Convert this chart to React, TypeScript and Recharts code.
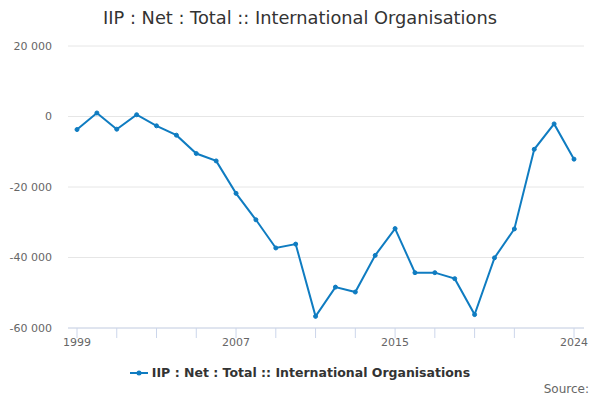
import React from 'react';
import { LineChart, Line, XAxis, YAxis, CartesianGrid } from 'recharts';

const years = [
  1999, 2000, 2001, 2002, 2003, 2004, 2005, 2006, 2007, 2008, 2009, 2010, 2011,
  2012, 2013, 2014, 2015, 2016, 2017, 2018, 2019, 2020, 2021, 2022, 2023, 2024,
];
const netValues = [
  -3700, 1000, -3600, 500, -2650, -5300, -10500, -12600, -21800, -29300, -37300, -36200, -56700,
  -48400, -49800, -39400, -31800, -44300, -44300, -46000, -56200, -40100, -31900, -9300, -2100, -12100,
];
const xTicks = [1999, 2001, 2003, 2005, 2007, 2009, 2011, 2013, 2015, 2017, 2019, 2021, 2024];
const xLabels = [1999, 2007, 2015, 2024];
const yTicks = [-60000, -40000, -20000, 0, 20000];

const seriesName = 'IIP : Net : Total :: International Organisations';
const LINE_COLOR = '#0f7cc1';
const FONT = '"DejaVu Sans", sans-serif';

const data = years.map((year, i) => ({ year, value: netValues[i] }));

const formatThousands = (v: number) => {
  const s = Math.abs(v).toString().replace(/\B(?=(\d{3})+(?!\d))/g, ' ');
  return v < 0 ? `-${s}` : s;
};

const App: React.FC = () => {
  return (
    <div style={{ position: 'absolute', left: 0, top: 0, width: 600, height: 400, fontFamily: FONT, background: '#fff' }}>
      <div style={{ position: 'absolute', top: 7, left: 0, width: 600, textAlign: 'center', fontSize: 17.8, color: '#333' }}>
        {seriesName}
      </div>
      <LineChart width={600} height={400} data={data} margin={{ top: 46, right: 16, left: 0, bottom: 0 }}>
        <CartesianGrid vertical={false} stroke="#e6e6e6" />
        <XAxis
          dataKey="year"
          type="number"
          domain={[1999, 2024]}
          ticks={xTicks}
          interval={0}
          height={72}
          padding={{ left: 9, right: 10 }}
          stroke="#ccd6eb"
          tickSize={10}
          tickMargin={0}
          tick={{ fill: '#666', fontSize: 11, fontFamily: FONT }}
          tickFormatter={(v: number) => (xLabels.includes(v) ? String(v) : '')}
        />
        <YAxis
          domain={[-60000, 20000]}
          ticks={yTicks}
          width={68}
          axisLine={false}
          tickLine={false}
          tickMargin={10}
          tick={{ fill: '#666', fontSize: 11, fontFamily: FONT }}
          tickFormatter={formatThousands}
        />
        <Line
          dataKey="value"
          name={seriesName}
          stroke={LINE_COLOR}
          strokeWidth={2}
          dot={{ r: 2, fill: LINE_COLOR, stroke: LINE_COLOR, strokeWidth: 1 }}
          isAnimationActive={false}
        />
      </LineChart>
      <div style={{ position: 'absolute', top: 365, left: 0, width: 600, display: 'flex', justifyContent: 'center', alignItems: 'center' }}>
        <svg width={18} height={12} style={{ marginRight: 4 }}>
          <line x1={0} y1={6} x2={18} y2={6} stroke={LINE_COLOR} strokeWidth={2} />
          <circle cx={9} cy={6} r={2.5} fill={LINE_COLOR} />
        </svg>
        <span style={{ fontSize: 12.5, fontWeight: 'bold', color: '#333' }}>{seriesName}</span>
      </div>
      <div style={{ position: 'absolute', top: 382, right: 11, fontSize: 12, color: '#666' }}>Source:</div>
    </div>
  );
};

export default App;
